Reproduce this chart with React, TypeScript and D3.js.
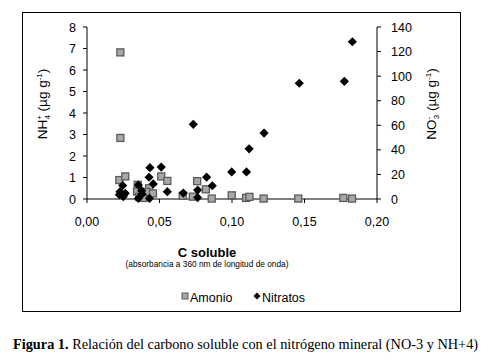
import React from "react";
import * as d3 from "d3";

// C soluble (absorbance) vs NH4+ (µg g-1)
const amonioC = [0.023, 0.023, 0.0223, 0.0264, 0.035, 0.0345, 0.036, 0.039, 0.0428, 0.041, 0.0455, 0.0512, 0.0554, 0.066, 0.073, 0.076, 0.082, 0.086, 0.0998, 0.1097, 0.112, 0.1218, 0.1457, 0.1768, 0.1828];
const amonioV = [6.82, 2.84, 0.88, 1.05, 0.66, 0.35, 0.1, 0.05, 0.5, 0.33, 0.26, 1.05, 0.84, 0.15, 0.11, 0.83, 0.45, 0.02, 0.17, 0.05, 0.1, 0.02, 0.02, 0.05, 0.02];

// C soluble vs NO3- (µg g-1)
const nitratosC = [0.0223, 0.0228, 0.0246, 0.0264, 0.025, 0.0354, 0.0377, 0.038, 0.0354, 0.0431, 0.0434, 0.0512, 0.0428, 0.0457, 0.0554, 0.0664, 0.0733, 0.0763, 0.0763, 0.0825, 0.0864, 0.0998, 0.110, 0.1118, 0.1221, 0.1464, 0.1775, 0.183];
const nitratosV = [3.5, 6, 11, 4.6, 2, 11.4, 6.8, 4, 0.5, 0.5, 25.5, 26, 17.7, 12.3, 6, 4.8, 60.8, 7.3, 1.2, 17.8, 10.8, 22, 22, 40.8, 53.7, 94.2, 95.8, 128];

const xTicks = [0, 0.05, 0.1, 0.15, 0.2];
const yLeftTicks = [0, 1, 2, 3, 4, 5, 6, 7, 8];
const yRightTicks = [0, 20, 40, 60, 80, 100, 120, 140];

const SANS = "'Liberation Sans', Arial, sans-serif";
const SERIF = "'Liberation Serif', 'Times New Roman', serif";

export default function App() {
  const x = d3.scaleLinear().domain([0, 0.2]).range([87, 377]);
  const yL = d3.scaleLinear().domain([0, 8]).range([199, 27]);
  const yR = d3.scaleLinear().domain([0, 140]).range([199, 27]);
  const fmt = (v: number) => d3.format(".2f")(v).replace(".", ",");
  const sq = 7;
  const dm = 4.6;
  const diamond = (cx: number, cy: number, r: number) =>
    `M${cx},${cy - r}L${cx + r},${cy}L${cx},${cy + r}L${cx - r},${cy}Z`;

  return (
    <svg width={488} height={360} style={{ position: "absolute", left: 0, top: 0, background: "#fff" }}>
      <rect x={0} y={0} width={488} height={360} fill="#fff" />
      <rect x={22.5} y={12.5} width={438} height={299} fill="none" stroke="#000" strokeWidth={1} />

      {/* axes */}
      <line x1={x(0)} x2={x(0)} y1={yL(8)} y2={yL(0)} stroke="#000" />
      <line x1={x(0.2)} x2={x(0.2)} y1={yR(140)} y2={yR(0)} stroke="#000" />
      <line x1={x(0)} x2={x(0.2)} y1={yL(0)} y2={yL(0)} stroke="#000" />
      {yLeftTicks.map((t) => (
        <g key={"yl" + t}>
          <line x1={x(0) - 4} x2={x(0)} y1={yL(t)} y2={yL(t)} stroke="#000" />
          <text x={x(0) - 11} y={yL(t) + 4.5} textAnchor="end" fontFamily={SANS} fontSize={12.5}>{t}</text>
        </g>
      ))}
      {yRightTicks.map((t) => (
        <g key={"yr" + t}>
          <line x1={x(0.2)} x2={x(0.2) + 4} y1={yR(t)} y2={yR(t)} stroke="#000" />
          <text x={x(0.2) + 14} y={yR(t) + 4.5} textAnchor="start" fontFamily={SANS} fontSize={12.5}>{t}</text>
        </g>
      ))}
      {xTicks.map((t) => (
        <g key={"x" + t}>
          <line x1={x(t)} x2={x(t)} y1={yL(0)} y2={yL(0) + 4} stroke="#000" />
          <text x={x(t)} y={226} textAnchor="middle" fontFamily={SANS} fontSize={12.5}>{fmt(t)}</text>
        </g>
      ))}

      {/* series */}
      {amonioC.map((c, i) => (
        <rect key={"a" + i} x={x(c) - sq / 2} y={yL(amonioV[i]) - sq / 2} width={sq} height={sq}
          fill="#a8a8a8" stroke="#5a5a5a" strokeWidth={1.3} />
      ))}
      {nitratosC.map((c, i) => (
        <path key={"n" + i} d={diamond(x(c), yR(nitratosV[i]), dm)} fill="#000" />
      ))}

      {/* axis titles */}
      <text x={207} y={256.5} textAnchor="middle" fontFamily={SANS} fontSize={13} fontWeight="bold">C soluble</text>
      <text x={207} y={266.5} textAnchor="middle" fontFamily={SANS} fontSize={8.3}>(absorbancia a 360 nm de longitud de onda)</text>

      <text transform="translate(47,104) rotate(-90)" textAnchor="middle" fontFamily={SANS} fontSize={13.5}>
        NH<tspan fontSize={8} dy={-5}>+</tspan><tspan fontSize={8} dx={-4.5} dy={8}>4</tspan><tspan dy={-3}> (µg g</tspan><tspan fontSize={8} dy={-5}>-1</tspan><tspan dy={5}>)</tspan>
      </text>
      <text transform="translate(436,104) rotate(-90)" textAnchor="middle" fontFamily={SANS} fontSize={13.5}>
        NO<tspan fontSize={8} dy={-5}>-</tspan><tspan fontSize={8} dx={-2.5} dy={8}>3</tspan><tspan dy={-3}> (µg g</tspan><tspan fontSize={8} dy={-5}>-1</tspan><tspan dy={5}>)</tspan>
      </text>

      {/* legend */}
      <rect x={182} y={293} width={6} height={6} fill="#a8a8a8" stroke="#5a5a5a" strokeWidth={1} />
      <text x={190} y={302} fontFamily={SANS} fontSize={12.5}>Amonio</text>
      <path d={diamond(257, 296, 3.5)} fill="#000" />
      <text x={262} y={302} fontFamily={SANS} fontSize={12.5}>Nitratos</text>

      {/* caption */}
      <text x={13} y={349} fontFamily={SERIF} fontSize={14.3}>
        <tspan fontWeight="bold">Figura 1.</tspan> Relación del carbono soluble con el nitrógeno mineral (NO-3 y NH+4)
      </text>
    </svg>
  );
}
